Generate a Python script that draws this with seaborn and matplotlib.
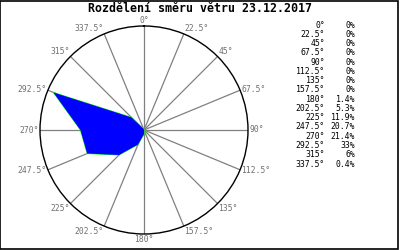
import numpy as np
import pandas as pd
import matplotlib
matplotlib.use("Agg")
import matplotlib.pyplot as plt
import seaborn as sns

title = "Rozdělení směru větru 23.12.2017"
directions = [0, 22.5, 45, 67.5, 90, 112.5, 135, 157.5, 180, 202.5, 225, 247.5, 270, 292.5, 315, 337.5]
dir_labels = ["0°", "22.5°", "45°", "67.5°", "90°", "112.5°", "135°", "157.5°",
              "180°", "202.5°", "225°", "247.5°", "270°", "292.5°", "315°", "337.5°"]
percent = [0, 0, 0, 0, 0, 0, 0, 0, 1.4, 5.3, 11.9, 20.7, 21.4, 33, 6, 0.4]
pct_labels = ["0%", "0%", "0%", "0%", "0%", "0%", "0%", "0%",
              "1.4%", "5.3%", "11.9%", "20.7%", "21.4%", "33%", "6%", "0.4%"]

sns.set_style("white")
plt.rcParams['font.family'] = ['DejaVu Sans Mono', 'DejaVu Sans']

fig = plt.figure(figsize=(4, 2.5), dpi=100)
fig.patch.set_facecolor("white")

ax = fig.add_axes([0.1, 0.064, 0.52, 0.832], projection="polar")
ax.set_theta_zero_location("N")
ax.set_theta_direction(-1)
ax.set_facecolor("white")

rmax = 35
df = pd.DataFrame({"theta": np.deg2rad(directions + [360]),
                   "r": percent + [percent[0]]})
sns.lineplot(data=df, x="theta", y="r", ax=ax, color="#00ff00", lw=0.7,
             sort=False, zorder=2)
ax.fill(df["theta"], df["r"], color="#0000ff", lw=0, zorder=3)

ax.set_ylim(0, rmax)
ax.set_yticks([])
ax.set_xticks(np.deg2rad(directions))
ax.set_xticklabels([])
ax.tick_params(axis="x", pad=0, length=0)
ax.xaxis.grid(True, color="#808080", lw=0.9)
ax.yaxis.grid(False)
ax.spines["polar"].set_color("black")
ax.spines["polar"].set_linewidth(1.0)
ax.set_xlabel("")
ax.set_ylabel("")

# direction labels right at the circle edge
for d, lab in zip(directions, dir_labels):
    s = np.sin(np.deg2rad(d))
    c = np.cos(np.deg2rad(d))
    ha = "left" if s > 0.1 else ("right" if s < -0.1 else "center")
    va = "bottom" if c > 0.5 else ("top" if c < -0.5 else "center")
    ax.text(np.deg2rad(d), rmax * 1.01, lab, ha=ha, va=va, fontsize=5.8,
            color="#707070", clip_on=False)

fig.text(0.5, 0.966, title, ha="center", va="center", fontsize=8.4,
         fontweight="bold", color="black")

y0 = 1 - 25 / 250
dy = 9.27 / 250
for i, (dl, pl) in enumerate(zip(dir_labels, pct_labels)):
    y = y0 - i * dy
    fig.text(325 / 400, y, dl, ha="right", va="center", fontsize=5.9, color="black")
    fig.text(355 / 400, y, pl, ha="right", va="center", fontsize=5.9, color="black")

border = plt.Rectangle((0.001, 0.006), 0.995, 0.992, transform=fig.transFigure,
                       fill=False, edgecolor="black", lw=1.2)
fig.patches.append(border)

fig.savefig("out.png", dpi=100)
